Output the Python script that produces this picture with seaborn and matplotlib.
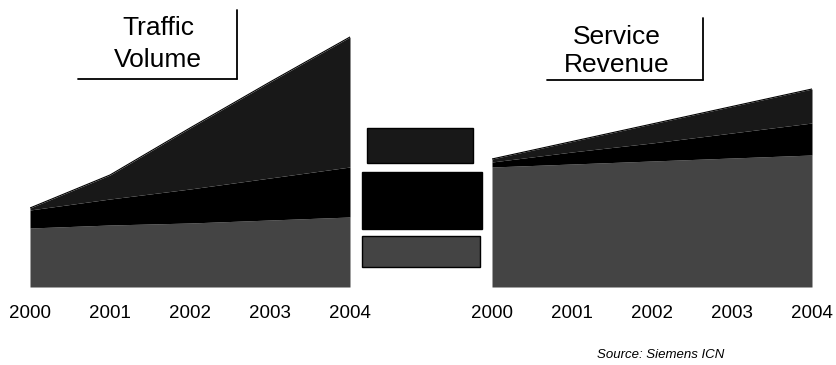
import matplotlib
matplotlib.use("Agg")
import matplotlib.pyplot as plt
from matplotlib.lines import Line2D
from matplotlib.patches import Rectangle
import seaborn as sns
import pandas as pd

# Years shown on both panels
years = [2000, 2001, 2002, 2003, 2004]
year_labels = ["2000", "2001", "2002", "2003", "2004"]

# Traffic volume (index units), stacked from the bottom band upward
traffic_base = [59, 62, 64, 67, 70]
traffic_mid = [18, 26, 34, 42, 50]
traffic_top = [2, 24, 61, 96, 130]

# Service revenue (index units), stacked the same way
revenue_base = [120, 123, 126, 129, 132]
revenue_mid = [5, 12, 18, 25, 32]
revenue_top = [3, 10.5, 19, 26.5, 34]

traffic_title = ["Traffic", "Volume"]
revenue_title = ["Service", "Revenue"]
source_note = "Source: Siemens ICN"

band_colors = ["#444444", "#000000", "#181818"]

sns.set_theme(style="white")
plt.rcParams["font.family"] = ["Liberation Sans", "DejaVu Sans"]
plt.rcParams["text.color"] = "black"
plt.rcParams["xtick.color"] = "black"

W, H = 836, 365
fig = plt.figure(figsize=(W / 100, H / 100), dpi=100)
fig.patch.set_facecolor("white")


def fx(x):
    return x / W


def fy(y):
    return 1 - y / H


def make_panel(x0, x1, base, mid, top):
    ax = fig.add_axes([fx(x0), fy(287), (x1 - x0) / W, 260 / H])
    df = pd.DataFrame({"year": years, "base": base, "mid": mid, "top": top})
    ax.stackplot(df["year"], df["base"], df["mid"], df["top"],
                 colors=band_colors, linewidth=0)
    total = df["base"] + df["mid"] + df["top"]
    sns.lineplot(x=df["year"], y=total, ax=ax, color="black", linewidth=0.8)
    ax.set_xlim(years[0], years[-1])
    ax.set_ylim(0, 260)
    ax.set_xticks(years)
    ax.set_xticklabels(year_labels, fontsize=13.5, color="black")
    ax.set_yticks([])
    ax.set_xlabel("")
    ax.set_ylabel("")
    ax.tick_params(axis="x", length=0, pad=13)
    sns.despine(ax=ax, left=True, bottom=True)
    ax.patch.set_alpha(0)
    return ax


make_panel(30, 350, traffic_base, traffic_mid, traffic_top)
make_panel(492, 812, revenue_base, revenue_mid, revenue_top)

# Panel headings with their corner rules
fig.text(fx(158), fy(28), traffic_title[0], ha="center", va="center",
         fontsize=19, color="black")
fig.text(fx(158), fy(60), traffic_title[1], ha="center", va="center",
         fontsize=19, color="black")
fig.add_artist(Line2D([fx(78), fx(237)], [fy(79), fy(79)], color="black", lw=1.3))
fig.add_artist(Line2D([fx(237), fx(237)], [fy(10), fy(79)], color="black", lw=1.3))

fig.text(fx(617), fy(37), revenue_title[0], ha="center", va="center",
         fontsize=19, color="black")
fig.text(fx(617), fy(65), revenue_title[1], ha="center", va="center",
         fontsize=19, color="black")
fig.add_artist(Line2D([fx(547), fx(703)], [fy(80), fy(80)], color="black", lw=1.3))
fig.add_artist(Line2D([fx(703), fx(703)], [fy(18), fy(80)], color="black", lw=1.3))

# Band key swatches between the panels
swatches = [
    (367, 128, 106, 35, band_colors[2]),
    (362, 172, 120, 57, band_colors[1]),
    (362, 236, 118, 31, band_colors[0]),
]
for x, y, w, h, c in swatches:
    fig.add_artist(Rectangle((fx(x), fy(y + h)), w / W, h / H,
                             transform=fig.transFigure, facecolor=c,
                             edgecolor="black", linewidth=1))

fig.text(fx(661), fy(355), source_note, ha="center", va="center",
         fontsize=9.5, style="italic", color="black")

fig.savefig("out.png", dpi=100)
